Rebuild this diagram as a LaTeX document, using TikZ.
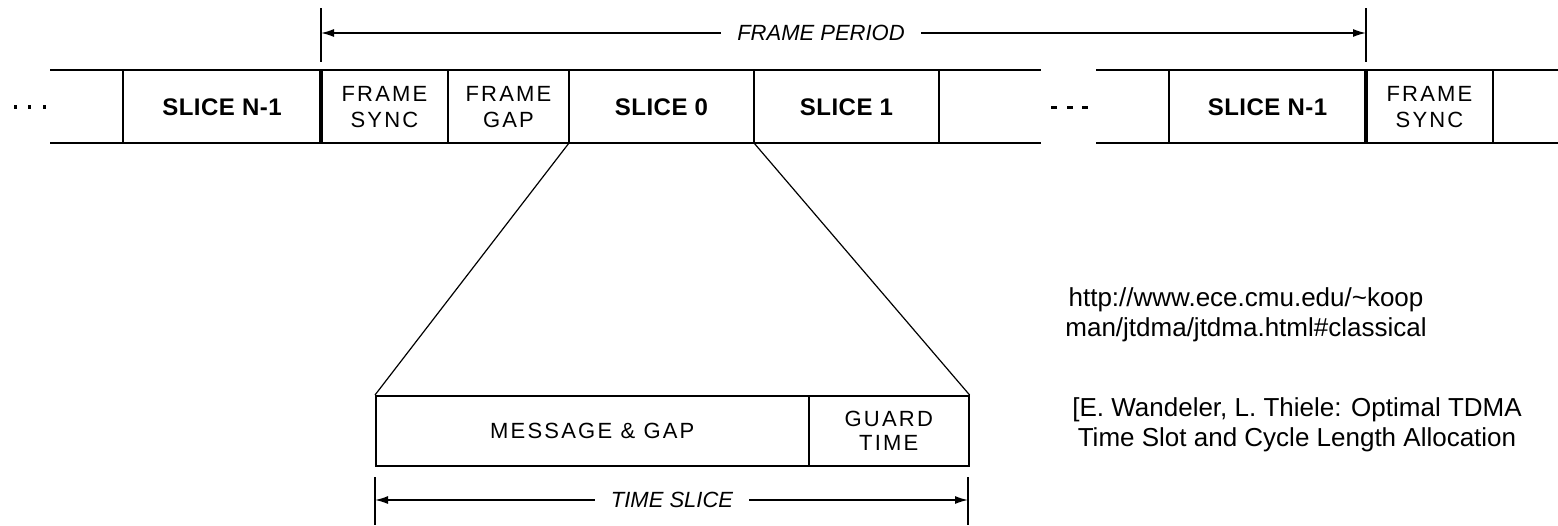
\documentclass[tikz,border=0pt]{standalone}
\usepackage{fontspec}
\setmainfont{Liberation Sans}
\newfontfamily\labfont[LetterSpace=10]{Liberation Sans}
\newfontfamily\boldlab[LetterSpace=2]{Liberation Sans}
\usetikzlibrary{arrows.meta}
\begin{document}
\begin{tikzpicture}[x=1pt,y=-1pt,
  cell/.style={inner sep=0pt, align=center, font=\labfont\fontsize{22}{26}\selectfont},
  bcell/.style={inner sep=0pt, font=\boldlab\fontsize{24}{26}\selectfont\bfseries},
  strip/.style={line width=2pt},
  thk/.style={line width=3.5pt},
  tick/.style={line width=1.6pt},
  fan/.style={line width=1.2pt},
  box/.style={draw, line width=1.6pt, inner sep=0pt, align=center, anchor=north west, font=\labfont\fontsize{22}{24}\selectfont},
  dim/.style={line width=1.5pt, {Latex[length=13pt,width=8pt]}-{Latex[length=13pt,width=8pt]}},
  dimtext/.style={font=\fontsize{22}{24}\selectfont\itshape, fill=white, inner xsep=16pt, inner ysep=2pt},
  ref/.style={align=center, inner sep=0pt, font=\fontsize{26}{30}\selectfont}
]
\useasboundingbox (0,0) rectangle (1558,525);

% main strip
\draw[strip] (50,70) -- (1041,70) (50,143) -- (1041,143);
\draw[strip] (1096,70) -- (1558,70) (1096,143) -- (1558,143);
\foreach \x in {123,448,569,754,939,1169,1493} \draw[strip] (\x,70) -- (\x,143);
\foreach \x in {321,1366} \draw[thk] (\x,70) -- (\x,143);

% dots
\foreach \x in {15,29,44} \fill (\x-1.5,105) rectangle (\x+1.5,109);
\foreach \x in {1054,1070,1085} \fill (\x-3,105.5) rectangle (\x+3,108.5);

% strip labels
\node[bcell] (sn1) at (222,107) {SLICE N-1};
\node[cell] (fs) at (384.5,107) {FRAME\\SYNC};
\node[cell] (fg) at (508.5,107) {FRAME\\GAP};
\node[bcell] (s0) at (661.5,107) {SLICE 0};
\node[bcell] (s1) at (846.5,107) {SLICE 1};
\node[bcell] (sn1b) at (1267.5,107) {SLICE N-1};
\node[cell] (fsb) at (1429.5,107) {FRAME\\SYNC};

% frame period
\coordinate (fpl) at (321,33);
\coordinate (fpr) at (1366,33);
\draw[tick] (321,8) -- (321,62);
\draw[tick] (1366,8) -- (1366,62);
\draw[dim] (fpl) -- (fpr);
\node[dimtext] (fp) at (821,33) {FRAME PERIOD};

% lower box
\node[box, minimum width=433pt, minimum height=70pt] (msg) at (375,395) {MESSAGE \& GAP};
\node[box, minimum width=160pt, minimum height=70pt] (guard) at (808,395) {GUARD\\TIME};

% fan lines
\coordinate (c0) at (569,143);
\coordinate (c1) at (754,143);
\draw[fan] (c0) -- (msg.north west);
\draw[fan] (c1) -- (guard.north east);

% time slice
\coordinate (tsl) at (375,500);
\coordinate (tsr) at (968,500);
\draw[tick] (375,477) -- (375,525);
\draw[tick] (968,477) -- (968,525);
\draw[dim] (tsl) -- (tsr);
\node[dimtext] (ts) at (672,500) {TIME SLICE};

% references
\node[ref] (url) at (1246,315) {http://www.ece.cmu.edu/\textasciitilde koop\\man/jtdma/jtdma.html\#classical};
\node[ref] (cite) at (1297,425) {[E. Wandeler, L. Thiele: Optimal TDMA\\Time Slot and Cycle Length Allocation};
\end{tikzpicture}
\end{document}
